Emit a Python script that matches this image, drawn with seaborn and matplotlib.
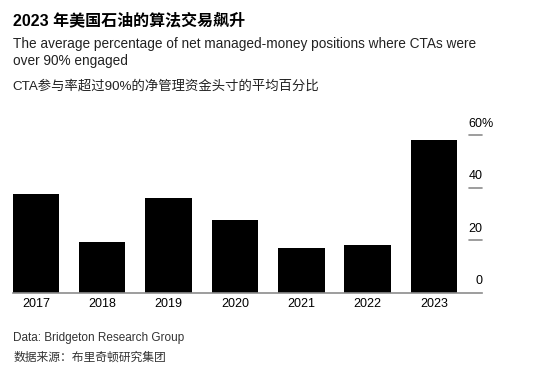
import matplotlib.pyplot as plt
import matplotlib.transforms as mtransforms
import seaborn as sns

# data
years = ["2017", "2018", "2019", "2020", "2021", "2022", "2023"]
pct = [37.7, 19.2, 36.0, 27.7, 17.1, 18.3, 58.1]
yticks = [0, 20, 40, 60]

sns.set_style("white")
plt.rcParams["font.family"] = ["Liberation Sans", "Noto Sans CJK SC", "DejaVu Sans"]

fig = plt.figure(figsize=(5.5, 3.65), dpi=100)
ax = fig.add_axes([0.023, 0.198, 0.853, 0.473])

sns.barplot(x=years, y=pct, color="black", saturation=1, width=0.7, linewidth=0, ax=ax)

ax.set_xlim(-0.35, 6.72)
ax.set_ylim(0, 65.7)
ax.set_xlabel("")
ax.set_ylabel("")
ax.set_yticks([])
ax.tick_params(axis="x", length=0, pad=4, labelsize=9, labelcolor="black")
sns.despine(ax=ax, left=True, top=True, right=True)
ax.spines["bottom"].set_color("#8c8c8c")
ax.spines["bottom"].set_linewidth(1.2)

# right-hand gridline stubs and labels, Bloomberg style
trans = mtransforms.blended_transform_factory(ax.transAxes, ax.transData)
for v in yticks:
    if v > 0:
        ax.plot([0.972, 1.0], [v, v], color="#8c8c8c", lw=1.2, transform=trans,
                clip_on=False)
    if v == yticks[-1]:
        # top label carries the unit, hanging past the numbers' right edge
        ax.annotate(f"{v}%", xy=(1.0, v), xycoords=trans, xytext=(-9.5, 4),
                    textcoords="offset points", ha="left", va="bottom",
                    fontsize=9, color="black", annotation_clip=False)
    else:
        ax.annotate(str(v), xy=(1.0, v), xycoords=trans, xytext=(0.5, 4),
                    textcoords="offset points", ha="right", va="bottom",
                    fontsize=9, color="black", annotation_clip=False)

fig.text(0.024, 0.965, "2023 年美国石油的算法交易飙升", fontsize=11.5,
         fontweight="bold", color="black", va="top")
fig.text(0.024, 0.899,
         "The average percentage of net managed-money positions where CTAs were\nover 90% engaged",
         fontsize=9.85, color="#222222", va="top", linespacing=1.3)
fig.text(0.022, 0.781, "CTA参与率超过90%的净管理资金头寸的平均百分比",
         fontsize=9.6, color="#222222", va="top")
fig.text(0.024, 0.090, "Data: Bridgeton Research Group", fontsize=8.5,
         color="#333333", va="top")
fig.text(0.024, 0.037, "数据来源：布里奇顿研究集团", fontsize=8.5,
         color="#333333", va="top")

fig.savefig("out.png", dpi=100)
